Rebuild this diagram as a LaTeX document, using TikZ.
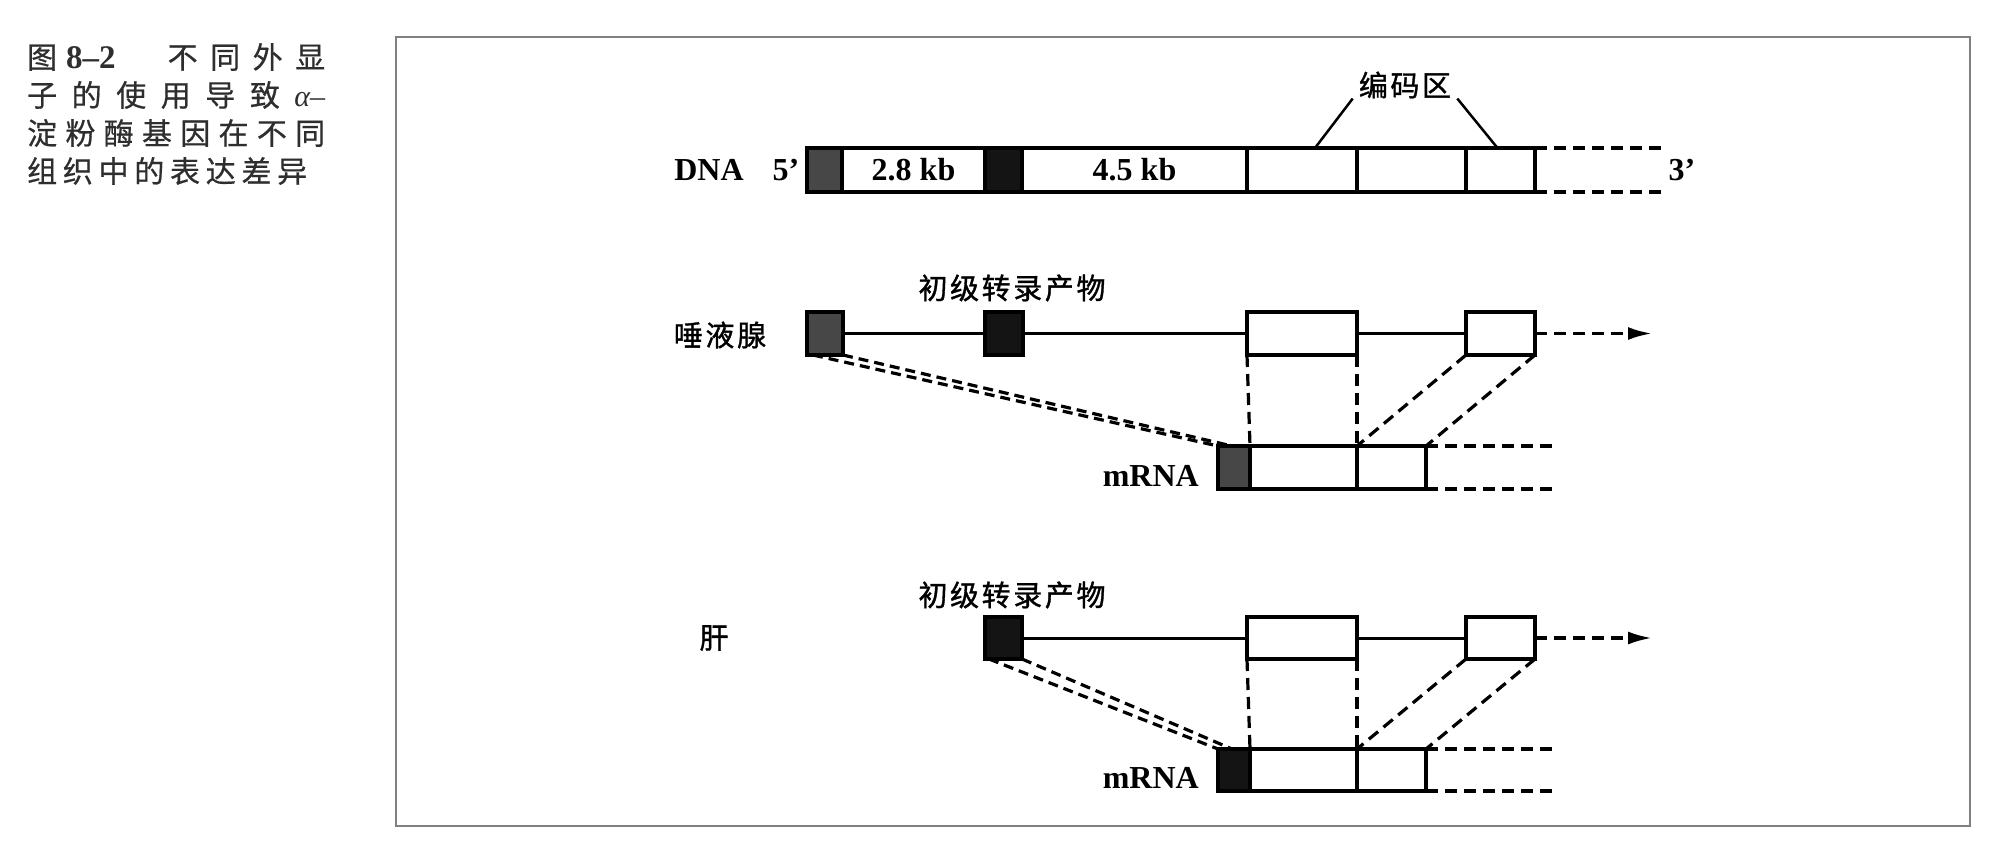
\documentclass[tikz,border=0pt]{standalone}
\usepackage{fontspec}
\setmainfont{Liberation Serif}
\newfontfamily\cjk[FakeBold=0.6]{Noto Sans CJK SC}
\newfontfamily\cjkl[LetterSpace=9,FakeBold=1.2]{Noto Sans CJK SC}
\usetikzlibrary{arrows.meta}
\begin{document}
\begin{tikzpicture}[x=1pt,y=-1pt,
  seg/.style={draw=black, line width=4pt, inner sep=0pt, outer sep=0pt, anchor=north west, fill=white},
  darkseg/.style={seg, fill=black!72},
  blackseg/.style={seg, fill=black!92},
  lat/.style={font=\fontsize{32}{36}\selectfont\bfseries, inner sep=0pt},
  lab/.style={font=\cjkl\fontsize{29}{32}\selectfont, inner sep=0pt},
  capline/.style={font=\cjk\fontsize{30}{32}\selectfont, text=black!82, inner sep=0pt, anchor=west},
  intron/.style={line width=3pt},
  dsh/.style={line width=3.2pt, dash pattern=on 12pt off 7pt},
  pointer/.style={line width=2.5pt},
]
\useasboundingbox (0,0) rectangle (2000,854);
\fill[white] (0,0) rectangle (2000,854);

% caption
\node[capline] (cap1) at (27,57) {\makebox[298pt][s]{图\hspace{9pt}{\rmfamily\bfseries\fontsize{33}{34}\selectfont 8–2}\hspace{52pt}不\hfil 同\hfil 外\hfil 显}};
\node[capline] (cap2) at (27,95) {\makebox[298pt][s]{子\hfil 的\hfil 使\hfil 用\hfil 导\hfil 致\hfil {\rmfamily\itshape α}{\rmfamily –}}};
\node[capline] (cap3) at (27,133) {\makebox[298pt][s]{淀\hfil 粉\hfil 酶\hfil 基\hfil 因\hfil 在\hfil 不\hfil 同}};
\node[capline] (cap4) at (27,171) {\makebox[280pt][s]{组\hfil 织\hfil 中\hfil 的\hfil 表\hfil 达\hfil 差\hfil 异}};

% frame
\draw[line width=2.5pt, draw=black!50] (396,37) rectangle (1970,826);

% DNA row
\node[darkseg, minimum width=35pt, minimum height=44pt] (d1) at (807,148) {};
\node[seg, minimum width=143pt, minimum height=44pt, font=\fontsize{32}{36}\selectfont\bfseries] (d2) at (842,148) {2.8 kb};
\node[blackseg, minimum width=37pt, minimum height=44pt] (d3) at (985,148) {};
\node[seg, minimum width=225pt, minimum height=44pt, font=\fontsize{32}{36}\selectfont\bfseries] (d4) at (1022,148) {4.5 kb};
\node[seg, minimum width=110pt, minimum height=44pt] (d5) at (1247,148) {};
\node[seg, minimum width=109pt, minimum height=44pt] (d6) at (1357,148) {};
\node[seg, minimum width=69pt, minimum height=44pt] (d7) at (1466,148) {};
\node[lat] (dna) at (709,170) {DNA};
\node[lat] (p5) at (786,170) {5’};
\node[lat] (p3) at (1682,170) {3’};
\coordinate (dt1) at (1663,148);
\coordinate (dt2) at (1663,192);
\draw[dsh] (d7.north east) -- (dt1);
\draw[dsh] (d7.south east) -- (dt2);
\node[lab] (code) at (1405,85) {编码区};
\draw[pointer] ([xshift=-6pt]code.south west) -- ([xshift=13pt]d5.north);
\draw[pointer] ([xshift=6pt]code.south east) -- ([xshift=-3pt]d7.north);

% salivary gland row
\node[lab] (sal) at (720,335) {唾液腺};
\node[lab] (pt1) at (1012,288) {初级转录产物};
\node[darkseg, minimum width=36pt, minimum height=43pt] (s1) at (807,312) {};
\node[blackseg, minimum width=38pt, minimum height=43pt] (s2) at (985,312) {};
\node[seg, minimum width=110pt, minimum height=43pt] (s3) at (1247,312) {};
\node[seg, minimum width=69pt, minimum height=43pt] (s4) at (1466,312) {};
\draw[intron] (s1.east) -- (s2.west);
\draw[intron] (s2.east) -- (s3.west);
\draw[intron] (s3.east) -- (s4.west);
\coordinate (sa) at (1652,333.5);
\draw[dsh, -{Latex[length=24pt,width=13pt]}] (s4.east) -- (sa);

% mRNA 1
\node[darkseg, minimum width=32pt, minimum height=43pt] (m1) at (1218,446) {};
\node[seg, minimum width=107pt, minimum height=43pt] (m2) at (1250,446) {};
\node[seg, minimum width=69pt, minimum height=43pt] (m3) at (1357,446) {};
\node[lat, anchor=base east] (mr1) at (1199,486) {mRNA};
\coordinate (mt1) at (1557,446);
\coordinate (mt2) at (1557,489);
\draw[dsh] (m3.north east) -- (mt1);
\draw[dsh] (m3.south east) -- (mt2);
\draw[dsh, dash pattern=on 10pt off 6pt] ([xshift=6pt]s1.south west) -- (m1.north west);
\draw[dsh, dash pattern=on 10pt off 6pt] (s1.south east) -- ([xshift=14pt]m1.north west);
\draw[dsh] (s3.south west) -- (m2.north west);
\draw[dsh] (s3.south east) -- (m2.north east);
\draw[dsh] (s4.south west) -- (m3.north west);
\draw[dsh] (s4.south east) -- (m3.north east);

% liver row
\node[lab] (liv) at (714,638) {肝};
\node[lab] (pt2) at (1012,595) {初级转录产物};
\node[blackseg, minimum width=37pt, minimum height=42pt] (l2) at (985,617) {};
\node[seg, minimum width=110pt, minimum height=42pt] (l3) at (1247,617) {};
\node[seg, minimum width=69pt, minimum height=42pt] (l4) at (1466,617) {};
\draw[intron] (l2.east) -- (l3.west);
\draw[intron] (l3.east) -- (l4.west);
\coordinate (la) at (1652,638);
\draw[dsh, -{Latex[length=24pt,width=13pt]}] (l4.east) -- (la);

% mRNA 2
\node[blackseg, minimum width=32pt, minimum height=42pt] (n1) at (1218,749) {};
\node[seg, minimum width=107pt, minimum height=42pt] (n2) at (1250,749) {};
\node[seg, minimum width=69pt, minimum height=42pt] (n3) at (1357,749) {};
\node[lat, anchor=base east] (mr2) at (1199,788) {mRNA};
\coordinate (nt1) at (1557,749);
\coordinate (nt2) at (1557,791);
\draw[dsh] (n3.north east) -- (nt1);
\draw[dsh] (n3.south east) -- (nt2);
\draw[dsh, dash pattern=on 10pt off 6pt] ([xshift=4pt]l2.south west) -- (n1.north west);
\draw[dsh, dash pattern=on 10pt off 6pt] (l2.south east) -- ([xshift=14pt]n1.north west);
\draw[dsh] (l3.south west) -- (n2.north west);
\draw[dsh] (l3.south east) -- (n2.north east);
\draw[dsh] (l4.south west) -- (n3.north west);
\draw[dsh] (l4.south east) -- (n3.north east);
\end{tikzpicture}
\end{document}
